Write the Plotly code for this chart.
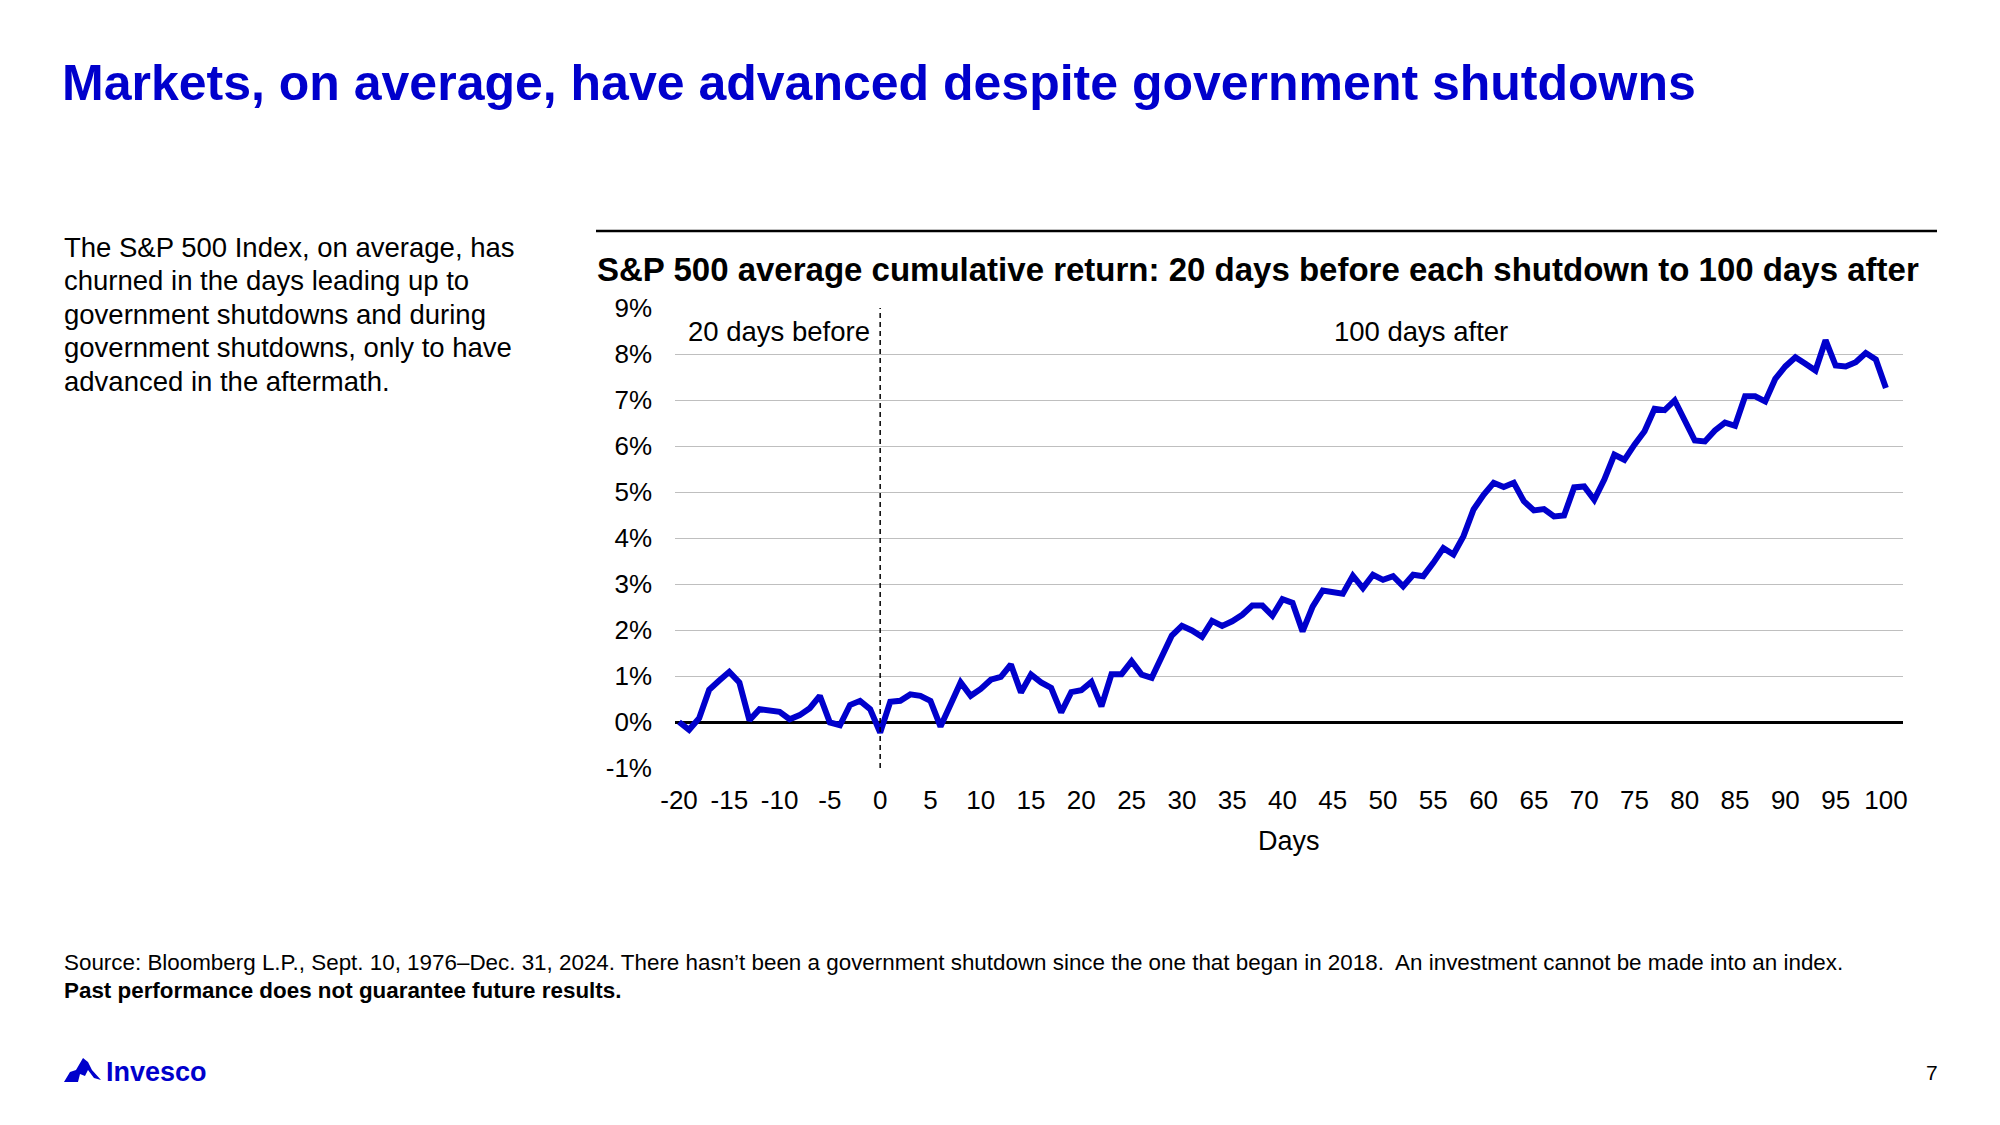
import plotly.graph_objects as go

# ---------------- data ----------------
days = list(range(-20, 101))
avg_return = [
    0.00, -0.17, 0.08, 0.70, 0.90, 1.09, 0.86, 0.04, 0.28, 0.26,   # -20..-11
    0.22, 0.06, 0.15, 0.30, 0.57, -0.01, -0.07, 0.37, 0.46, 0.28,  # -10..-1
    -0.23,                                                          # 0
    0.44, 0.46, 0.60, 0.57, 0.46, -0.10, 0.38, 0.86, 0.57, 0.72,   # 1..10
    0.92, 0.98, 1.25, 0.64, 1.03, 0.86, 0.74, 0.21, 0.65, 0.69,    # 11..20
    0.87, 0.34, 1.04, 1.04, 1.32, 1.03, 0.96, 1.46, 1.88, 2.09,    # 21..30
    1.99, 1.85, 2.20, 2.09, 2.19, 2.33, 2.53, 2.53, 2.31, 2.67,    # 31..40
    2.59, 1.97, 2.51, 2.86, 2.82, 2.79, 3.18, 2.91, 3.20, 3.09,    # 41..50
    3.17, 2.95, 3.20, 3.17, 3.46, 3.78, 3.64, 4.04, 4.62, 4.94,    # 51..60
    5.20, 5.11, 5.20, 4.80, 4.60, 4.63, 4.47, 4.49, 5.10, 5.12,    # 61..70
    4.83, 5.27, 5.81, 5.70, 6.03, 6.32, 6.81, 6.78, 6.99, 6.54,    # 71..80
    6.12, 6.10, 6.34, 6.51, 6.44, 7.08, 7.08, 6.97, 7.46, 7.73,    # 81..90
    7.93, 7.79, 7.64, 8.30, 7.75, 7.73, 7.82, 8.02, 7.88, 7.26,    # 91..100
]
x_ticks = list(range(-20, 101, 5))
x_tick_labels = [str(v) for v in x_ticks]
y_ticks = list(range(-1, 10))
y_tick_labels = [f"{v}%" for v in y_ticks]

title_text = "Markets, on average, have advanced despite government shutdowns"
chart_title = "S&P 500 average cumulative return: 20 days before each shutdown to 100 days after"
body_lines = [
    "The S&P 500 Index, on average, has",
    "churned in the days leading up to",
    "government shutdowns and during",
    "government shutdowns, only to have",
    "advanced in the aftermath.",
]
source_line = ("Source: Bloomberg L.P., Sept. 10, 1976\u2013Dec. 31, 2024. There hasn\u2019t been a government "
               "shutdown since the one that began in 2018.  An investment cannot be made into an index.")
disclaimer = "Past performance does not guarantee future results."

# ---------------- layout geometry (page pixels) ----------------
OFF = 8                      # browser body margin
FW, FH = 2000, 1125
L, R, T, B = 675, 1903, 308, 768
PW, PH = R - L, B - T

def px(x):
    return (x - L) / PW

def py(y):
    return (B - y) / PH

FONT = "Liberation Sans, Arial, sans-serif"
BLUE = "#0000CC"

fig = go.Figure()
fig.add_trace(go.Scatter(
    x=days, y=avg_return, mode="lines",
    line=dict(color=BLUE, width=6),
    hoverinfo="skip", showlegend=False,
))

fig.update_layout(
    width=FW, height=FH, autosize=False,
    margin=dict(l=L - OFF, r=FW - R + OFF, t=T - OFF, b=FH - B + OFF, pad=0),
    paper_bgcolor="white", plot_bgcolor="white",
    font=dict(family=FONT, color="black", size=26),
    showlegend=False,
)
fig.update_xaxes(
    range=[-20.4, 101.7], tickvals=x_ticks, ticktext=x_tick_labels,
    showgrid=False, zeroline=False,
    showline=False, ticks="", tickfont=dict(size=26, color="black"),
    ticklabelstandoff=14,
)
fig.update_yaxes(
    range=[-1.0001, 9.0001], tickvals=y_ticks, ticktext=y_tick_labels,
    showgrid=True, gridcolor="#BFBFBF", gridwidth=1.3,
    zeroline=True, zerolinecolor="black", zerolinewidth=3,
    showline=False, ticks="", tickfont=dict(size=26, color="black"),
    ticklabelstandoff=22,
)

# dashed vertical line at day 0
fig.add_shape(type="line", xref="x", yref="y", x0=0, x1=0, y0=-1, y1=9,
              line=dict(color="black", width=1.5, dash="5px,4px"), layer="above")
# rule above chart title
fig.add_shape(type="line", xref="paper", yref="paper", x0=px(596), x1=px(1937),
              y0=py(231), y1=py(231), line=dict(color="black", width=2.5))

anns = []
def note(text, x, y, size, color="black", bold=False, xanchor="left"):
    t = f"<b>{text}</b>" if bold else text
    anns.append(dict(text=t, x=px(x), y=py(y), xref="paper", yref="paper",
                     xanchor=xanchor, yanchor="middle", showarrow=False,
                     font=dict(family=FONT, size=size, color=color)))

note(title_text, 60, 83, 50, BLUE, bold=True)
for i, line in enumerate(body_lines):
    note(line, 62, 247 + i * 33.6, 27.5)
note(chart_title, 595, 269, 33, bold=True)
note("20 days before", 686, 331, 27.5)
note("100 days after", 1332, 331, 27.5)
note("Days", 1289, 841, 27, xanchor="center")
note(source_line, 62, 962, 22.4)
note(disclaimer, 62, 990, 22.4, bold=True)
note("Invesco", 104, 1072, 27, BLUE, bold=True)
note("7", 1932, 1072, 21, xanchor="center")
fig.update_layout(annotations=anns)

# simple Invesco mountain mark
pts = [(64, 1082), (70, 1072), (76, 1070), (83, 1058), (88, 1062), (92, 1070),
       (101, 1080), (94, 1078), (88, 1070), (85, 1076), (80, 1074), (78, 1082)]
path = "M " + " L ".join(f"{px(a):.5f},{py(b):.5f}" for a, b in pts) + " Z"
fig.add_shape(type="path", xref="paper", yref="paper", path=path,
              fillcolor=BLUE, line=dict(color=BLUE, width=0))

fig.write_html("out.html")
